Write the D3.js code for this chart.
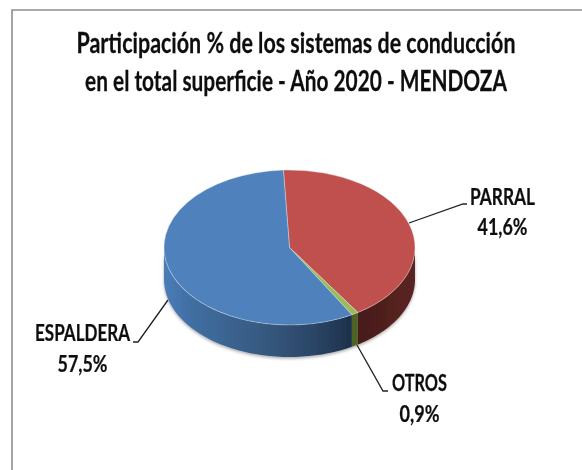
<!DOCTYPE html>
<html>
<head>
<meta charset="utf-8">
<script src="https://cdn.jsdelivr.net/npm/d3@7"></script>
<style>
    body { margin: 0; background: #fff; }
    text { font-family: Lato, "Liberation Sans", sans-serif; font-weight: bold; fill: #111; stroke: #111; stroke-width: 0.25px; }
</style>
</head>
<body>
<div id="chart"></div>
<script>
var categories = ["PARRAL", "OTROS", "ESPALDERA"];
var shares = [41.6, 0.9, 57.5];
var shareLabels = ["41,6%", "0,9%", "57,5%"];
var topColors = ["#c0504d", "#9bbb59", "#4f81bd"];
var titleLines = ["Participación % de los sistemas de conducción", "en el total superficie - Año 2020 - MENDOZA"];

var width = 582, height = 470;
var cx = 289.5, cy = 247.5, rx = 125.5, ry = 77.5, depth = 32;
var startDeg = -2.8;

var svg = d3.select("#chart")
    .append("svg")
    .attr("width", width)
    .attr("height", height)
    .style("display", "block");

var defs = svg.append("defs");

// side wall shading, runs left to right across the whole pie
function sideGradient(id, stops) {
    var g = defs.append("linearGradient")
        .attr("id", id)
        .attr("gradientUnits", "userSpaceOnUse")
        .attr("x1", cx - rx).attr("x2", cx + rx)
        .attr("y1", 0).attr("y2", 0);
    stops.forEach(function (s) {
        g.append("stop").attr("offset", s[0]).attr("stop-color", s[1]);
    });
}
sideGradient("side0", [[0, "#4a1c1a"], [0.8, "#4a1c1a"], [1, "#5a2522"]]);
sideGradient("side1", [[0, "#4f6228"], [1, "#4f6228"]]);
sideGradient("side2", [[0, "#4a7db8"], [0.1, "#416fa3"], [0.4, "#36597f"], [0.6, "#2a4566"], [0.75, "#1d3049"], [1, "#1d3049"]]);

var soft = defs.append("filter").attr("id", "soft")
    .attr("x", "-5%").attr("y", "-5%").attr("width", "110%").attr("height", "115%");
soft.append("feDropShadow")
    .attr("dx", 0).attr("dy", 1.5)
    .attr("stdDeviation", 1.6)
    .attr("flood-color", "#000")
    .attr("flood-opacity", 0.35);

var blur = defs.append("filter").attr("id", "blur");
blur.append("feGaussianBlur").attr("stdDeviation", 0.4);

// frame: only top and left edges show in the picture
svg.append("path")
    .attr("d", "M12,470V10H582")
    .attr("fill", "none")
    .attr("stroke", "#8e8e8e")
    .attr("stroke-width", 1.6);

var pie = d3.pie()
    .sort(null)
    .startAngle(startDeg * Math.PI / 180)
    .endAngle((startDeg + 360) * Math.PI / 180);
var slices = pie(shares);

var x = d3.scaleLinear().domain([-1, 1]).range([cx - rx, cx + rx]);
var y = d3.scaleLinear().domain([-1, 1]).range([cy - ry, cy + ry]);

var side = d3.line()
    .x(function (d) { return x(Math.sin(d[0])); })
    .y(function (d) { return y(-Math.cos(d[0])) + d[1]; });

// wall of one slice, only the front half of the rim is visible
function wall(s) {
    var a0 = Math.max(s.startAngle, Math.PI / 2);
    var a1 = Math.min(s.endAngle, 3 * Math.PI / 2);
    if (a1 <= a0) return null;
    var steps = d3.range(0, 41).map(function (i) { return a0 + (a1 - a0) * i / 40; });
    var pts = steps.map(function (a) { return [a, 0]; })
        .concat(steps.slice().reverse().map(function (a) { return [a, depth]; }));
    return side(pts) + "Z";
}

svg.append("g")
    .attr("filter", "url(#soft)")
    .selectAll("path")
    .data(slices)
    .enter()
    .append("path")
    .attr("d", wall)
    .attr("fill", function (d, i) { return "url(#side" + i + ")"; });

var arc = d3.arc().innerRadius(0).outerRadius(rx);

svg.append("g")
    .attr("transform", "translate(" + cx + "," + cy + ") scale(1," + (ry / rx) + ")")
    .selectAll("path")
    .data(slices)
    .enter()
    .append("path")
    .attr("d", arc)
    .attr("fill", function (d, i) { return topColors[i]; })
    .attr("stroke", "#e4e8ee")
    .attr("stroke-opacity", 0.55)
    .attr("stroke-width", 0.9);

// leader lines
var leaders = [
    [[409, 223], [463, 204], [467, 204]],
    [[357, 345], [383, 391], [388, 391]],
    [[168, 300], [138, 342], [133, 342]]
];
svg.append("g")
    .selectAll("path")
    .data(leaders)
    .enter()
    .append("path")
    .attr("d", d3.line())
    .attr("fill", "none")
    .attr("stroke", "#222")
    .attr("stroke-width", 1.3);

var labels = svg.append("g").attr("filter", "url(#blur)");

// Lato is wider than the original face, so squeeze each string to its measured width
function placeText(sel, px, py, pw) {
    sel.attr("text-anchor", "middle")
        .text(function (d) { return d; })
        .attr("transform", function (d, i) {
            var sx = pw[i] / this.getComputedTextLength();
            return "translate(" + px[i] + "," + py[i] + ") scale(" + sx + ",1)";
        });
}

labels.selectAll(".title")
    .data(titleLines)
    .enter()
    .append("text")
    .attr("class", "title")
    .attr("font-size", "28px")
    .call(placeText, [296, 296], [53, 91], [439, 422]);

var catX = [502.5, 419.5, 82.5];

labels.selectAll(".cat")
    .data(categories)
    .enter()
    .append("text")
    .attr("class", "cat")
    .attr("font-size", "22px")
    .call(placeText, catX, [205, 391, 341], [65, 55, 95]);

labels.selectAll(".val")
    .data(shareLabels)
    .enter()
    .append("text")
    .attr("class", "val")
    .attr("font-size", "22px")
    .call(placeText, catX, [235, 422, 372], [50, 40, 50]);
</script>
</body>
</html>
